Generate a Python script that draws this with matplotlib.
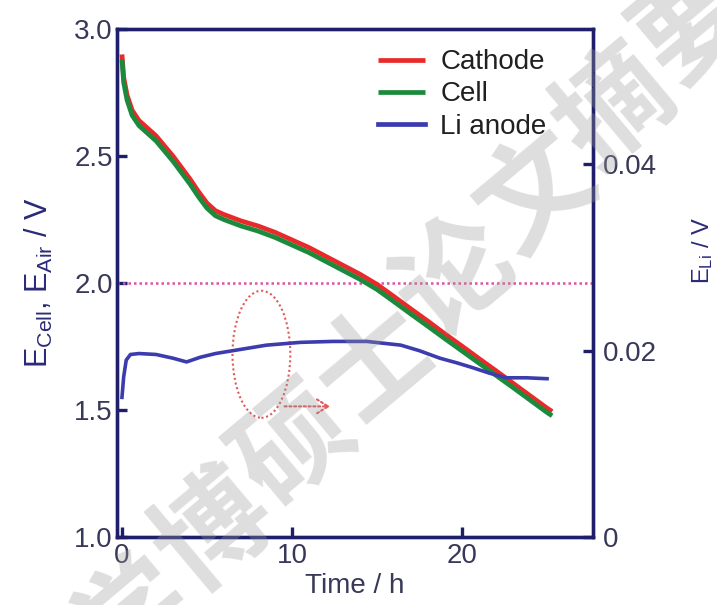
import matplotlib
matplotlib.use('Agg')
import matplotlib.pyplot as plt
from matplotlib.patches import Ellipse, FancyArrowPatch

plt.rcParams['font.family'] = ['Liberation Sans', 'DejaVu Sans']
plt.rcParams['mathtext.fontset'] = 'custom'
plt.rcParams['mathtext.rm'] = 'Liberation Sans'
plt.rcParams['mathtext.it'] = 'Liberation Sans:italic'

# ---- data ----
time_v = [0, 0.1, 0.3, 0.6, 1.0, 1.5, 2.0, 3.0, 4.0, 4.5, 5.0, 5.5, 6.0, 7.0, 8.0,
          9.0, 10.0, 11.0, 12.0, 13.0, 14.0, 15.0, 16.0, 17.0, 18.0, 19.0, 20.0,
          21.0, 22.0, 23.0, 24.0, 25.0, 25.3]
cathode = [2.90, 2.81, 2.74, 2.68, 2.64, 2.61, 2.58, 2.50, 2.41, 2.36, 2.315, 2.285,
           2.27, 2.245, 2.225, 2.20, 2.17, 2.14, 2.105, 2.07, 2.035, 1.995, 1.947,
           1.898, 1.85, 1.80, 1.752, 1.703, 1.655, 1.606, 1.557, 1.508, 1.495]
cell = [2.88, 2.79, 2.72, 2.66, 2.62, 2.59, 2.56, 2.48, 2.39, 2.34, 2.295, 2.265,
        2.25, 2.225, 2.205, 2.18, 2.15, 2.12, 2.085, 2.05, 2.015, 1.975, 1.927,
        1.878, 1.83, 1.781, 1.733, 1.685, 1.637, 1.589, 1.54, 1.491, 1.478]

time_li = [0, 0.1, 0.25, 0.5, 1.0, 2.0, 3.0, 3.8, 4.6, 5.5, 6.5, 7.5, 8.5, 10.5,
           12.4, 14.4, 16.4, 17.5, 18.7, 19.7, 20.6, 21.6, 22.6, 23.8, 25.0]
li_anode = [0.0150, 0.0172, 0.0190, 0.0196, 0.0197, 0.0196, 0.0192, 0.0188, 0.0193,
            0.0197, 0.0200, 0.0203, 0.0206, 0.0209, 0.0210, 0.0210, 0.0206, 0.0200,
            0.0192, 0.0187, 0.0182, 0.0176, 0.0171, 0.0171, 0.0170]

left_ticks = [1.0, 1.5, 2.0, 2.5, 3.0]
left_ticklabels = ['1.0', '1.5', '2.0', '2.5', '3.0']
right_ticks = [0, 0.02, 0.04]
right_ticklabels = ['0', '0.02', '0.04']
x_ticks = [0, 10, 20]
x_ticklabels = ['0', '10', '20']
legend_labels = ['Cathode', 'Cell', 'Li anode']
watermark = '学博硕士论文摘要'

# ---- style ----
spine_c = '#1e1e6a'
tick_c = '#383858'
label_c = '#2a2a78'
red = '#e82a2a'
green = '#1c8a3c'
blue = '#3c3cae'

fig = plt.figure(figsize=(7.17, 6.05), dpi=100)
ax = fig.add_axes([0.163, 0.112, 0.664, 0.840])
ax2 = ax.twinx()

l1, = ax.plot(time_v, cathode, color=red, lw=3.4, solid_capstyle='butt', zorder=3)
l2, = ax.plot(time_v, cell, color=green, lw=3.4, solid_capstyle='butt', zorder=3)
l3, = ax2.plot(time_li, li_anode, color=blue, lw=2.6, zorder=3)

ax.axhline(2.0, color='#e050a0', lw=1.8, ls=(0, (1, 1.2)), zorder=2)

ell = Ellipse((8.2, 1.72), 3.4, 0.50, fill=False, edgecolor='#e05a5a', lw=1.5,
              ls=(0, (1, 1.3)), zorder=4)
ax.add_patch(ell)
arr = FancyArrowPatch((9.4, 1.515), (12.4, 1.515), arrowstyle='->,head_length=8,head_width=5',
                      color='#e05a5a', lw=1.5, ls=(0, (1, 1.3)), zorder=4)
ax.add_patch(arr)

ax.set_xlim(-0.3, 27.7)
ax.set_ylim(1.0, 3.0)
ax2.set_ylim(0, 0.0545)
ax.set_xticks(x_ticks)
ax.set_xticklabels(x_ticklabels)
ax.set_yticks(left_ticks)
ax.set_yticklabels(left_ticklabels)
ax2.set_yticks(right_ticks)
ax2.set_yticklabels(right_ticklabels)

for a in (ax, ax2):
    for s in a.spines.values():
        s.set_color(spine_c)
        s.set_linewidth(2.4)
ax.tick_params(axis='both', direction='in', length=7, width=2.4, color=spine_c,
               labelcolor=tick_c, labelsize=20)
ax.tick_params(axis='x', pad=4)
ax.tick_params(axis='y', pad=3, right=False)
ax2.tick_params(axis='y', direction='in', length=7, width=2.4, color=spine_c,
                labelcolor=tick_c, labelsize=20, pad=7)

ax.set_xlabel('Time / h', fontsize=20, color=tick_c, labelpad=3)
ax.set_ylabel(r'E$_{\mathrm{Cell}}$, E$_{\mathrm{Air}}$ / V', fontsize=22, color=label_c,
              labelpad=14)
ax2.set_ylabel(r'E$_{\mathrm{Li}}$ / V', fontsize=17, color=label_c)
ax2.yaxis.set_label_coords(1.205, 0.565)

leg = ax.legend([l1, l2, l3], legend_labels, loc='upper left', bbox_to_anchor=(0.548, 0.96),
                frameon=False, fontsize=20, handlelength=1.7, handletextpad=0.55,
                labelspacing=0.22, borderpad=0, borderaxespad=0)
for t in leg.get_texts():
    t.set_color('#202020')
for h in leg.get_lines():
    h.set_linewidth(3.4)

# watermark
x0, y0 = 0.30, 0.12
dx, dy = 0.112, 0.140
for i, ch in enumerate(watermark):
    fig.text(x0 + (i - 1) * dx, y0 + (i - 1) * dy, ch, fontsize=82,
             family=['Noto Sans CJK SC'], fontweight='bold', color='#9a9a9a',
             alpha=0.33, rotation=40, ha='center', va='center', zorder=10)

fig.savefig('out.png', dpi=100)
